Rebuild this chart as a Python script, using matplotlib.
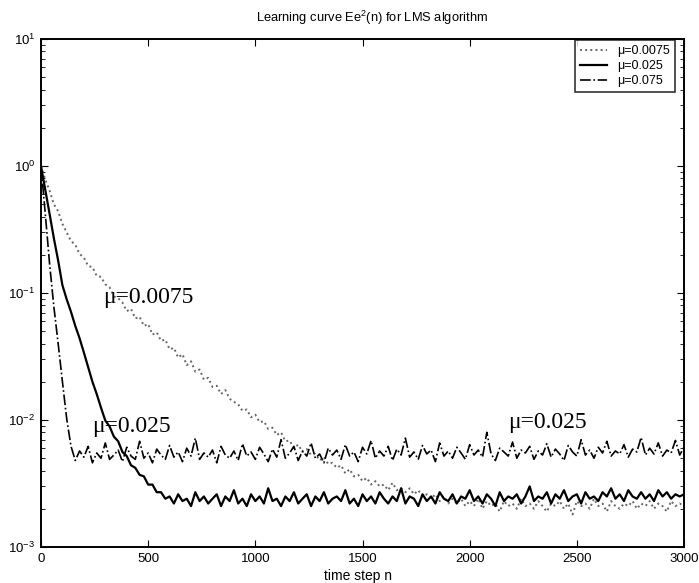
import numpy as np
import matplotlib
matplotlib.use('Agg')
import matplotlib.pyplot as plt

plt.rcParams['font.family'] = ['Liberation Sans', 'DejaVu Sans']
plt.rcParams['mathtext.default'] = 'regular'

# learning curves, one value every 20 time steps
e_slow = [  # mu = 0.0075
    1.0, 0.78, 0.64, 0.50, 0.44, 0.35, 0.30, 0.256, 0.240, 0.203,
    0.190, 0.163, 0.160, 0.136, 0.134, 0.117, 0.111, 0.094, 0.091, 0.084,
    0.072, 0.075, 0.063, 0.065, 0.055, 0.057, 0.047, 0.049, 0.042, 0.043,
    0.036, 0.037, 0.031, 0.033, 0.027, 0.029, 0.024, 0.025, 0.0208, 0.0215,
    0.0182, 0.0186, 0.0160, 0.0172, 0.0147, 0.0139, 0.0133, 0.0118, 0.0121, 0.0105,
    0.0110, 0.0096, 0.0098, 0.0085, 0.0087, 0.0076, 0.0080, 0.0068, 0.0069, 0.0060,
    0.0064, 0.0056, 0.0059, 0.0053, 0.0054, 0.0048, 0.0051, 0.0045, 0.0046, 0.0042,
    0.0044, 0.0038, 0.0041, 0.0036, 0.0037, 0.0033, 0.0035, 0.0031, 0.0033, 0.0030,
    0.0031, 0.0028, 0.0032, 0.0028, 0.0029, 0.0027, 0.0029, 0.0026, 0.0028, 0.0025,
    0.0026, 0.0024, 0.0026, 0.0023, 0.0025, 0.0022, 0.0024, 0.0022, 0.0024, 0.0021,
    0.0023, 0.0021, 0.0024, 0.0020, 0.0023, 0.0021, 0.0022, 0.0019, 0.0023, 0.0021,
    0.0022, 0.0020, 0.0024, 0.0021, 0.0022, 0.0020, 0.0023, 0.0021, 0.0019, 0.0022,
    0.0021, 0.0023, 0.0020, 0.0022, 0.0018, 0.0023, 0.0021, 0.0022, 0.0020, 0.0024,
    0.0021, 0.0022, 0.0019, 0.0023, 0.0021, 0.0020, 0.0022, 0.0021, 0.0023, 0.0020,
    0.0022, 0.0021, 0.0023, 0.0020, 0.0022, 0.0021, 0.0019, 0.0023, 0.0021, 0.0022,
    0.0021,
]

e_mid = [  # mu = 0.025
    1.0, 0.65, 0.42, 0.27, 0.18, 0.115, 0.089, 0.071, 0.055, 0.044,
    0.034, 0.026, 0.020, 0.016, 0.0125, 0.0099, 0.0089, 0.0074, 0.0068, 0.0056,
    0.0052, 0.0044, 0.0042, 0.0037, 0.0036, 0.0031, 0.0031, 0.0027, 0.0027, 0.0024,
    0.0025, 0.0022, 0.0026, 0.0023, 0.0024, 0.0021, 0.0027, 0.0023, 0.0025, 0.0022,
    0.0024, 0.0026, 0.0021, 0.0025, 0.0023, 0.0028, 0.0022, 0.0024, 0.0021, 0.0026,
    0.0023, 0.0025, 0.0022, 0.0029, 0.0023, 0.0024, 0.0021, 0.0025, 0.0023, 0.0027,
    0.0022, 0.0024, 0.0026, 0.0021, 0.0025, 0.0023, 0.0027, 0.0022, 0.0024, 0.0025,
    0.0023, 0.0028, 0.0022, 0.0024, 0.0021, 0.0026, 0.0023, 0.0025, 0.0022, 0.0027,
    0.0024, 0.0022, 0.0025, 0.0023, 0.0029, 0.0022, 0.0025, 0.0024, 0.0021, 0.0026,
    0.0023, 0.0025, 0.0022, 0.0027, 0.0024, 0.0023, 0.0026, 0.0022, 0.0025, 0.0024,
    0.0028, 0.0023, 0.0025, 0.0022, 0.0026, 0.0024, 0.0021, 0.0027, 0.0023, 0.0025,
    0.0024, 0.0026, 0.0022, 0.0025, 0.0030, 0.0023, 0.0025, 0.0024, 0.0027, 0.0022,
    0.0026, 0.0024, 0.0028, 0.0023, 0.0025, 0.0026, 0.0022, 0.0027, 0.0024, 0.0025,
    0.0023, 0.0027, 0.0025, 0.0029, 0.0024, 0.0026, 0.0023, 0.0028, 0.0025, 0.0024,
    0.0027, 0.0024, 0.0026, 0.0023, 0.0028, 0.0025, 0.0027, 0.0024, 0.0026, 0.0025,
    0.0026,
]

e_fast = [  # mu = 0.075
    1.0, 0.42, 0.17, 0.078, 0.040, 0.020, 0.0102, 0.0062, 0.0048, 0.0057,
    0.0051, 0.0062, 0.0046, 0.0055, 0.0050, 0.0066, 0.0049, 0.0053, 0.0058, 0.0047,
    0.0061, 0.0052, 0.0049, 0.0068, 0.0050, 0.0055, 0.0046, 0.0059, 0.0053, 0.0049,
    0.0063, 0.0051, 0.0056, 0.0047, 0.0060, 0.0052, 0.0072, 0.0049, 0.0055, 0.0051,
    0.0058, 0.0046, 0.0062, 0.0053, 0.0050, 0.0057, 0.0048, 0.0065, 0.0052, 0.0056,
    0.0049, 0.0061, 0.0054, 0.0047, 0.0059, 0.0051, 0.0070, 0.0050, 0.0055, 0.0062,
    0.0048, 0.0057, 0.0052, 0.0066, 0.0050, 0.0054, 0.0046, 0.0060, 0.0053, 0.0058,
    0.0049, 0.0064, 0.0052, 0.0056, 0.0047, 0.0061, 0.0054, 0.0069, 0.0050, 0.0057,
    0.0052, 0.0062, 0.0048, 0.0059, 0.0053, 0.0072, 0.0051, 0.0056, 0.0049, 0.0063,
    0.0054, 0.0058, 0.0047, 0.0066, 0.0052, 0.0057, 0.0050, 0.0061, 0.0055, 0.0049,
    0.0064, 0.0053, 0.0058, 0.0051, 0.0080, 0.0054, 0.0048, 0.0060, 0.0056, 0.0052,
    0.0067, 0.0050, 0.0058, 0.0055, 0.0062, 0.0049, 0.0057, 0.0053, 0.0065, 0.0051,
    0.0059, 0.0054, 0.0048, 0.0063, 0.0056, 0.0052, 0.0070, 0.0053, 0.0058, 0.0050,
    0.0061, 0.0055, 0.0068, 0.0052, 0.0057, 0.0054, 0.0064, 0.0051, 0.0059, 0.0056,
    0.0073, 0.0053, 0.0060, 0.0054, 0.0066, 0.0052, 0.0058, 0.0055, 0.0069, 0.0053,
    0.0061,
]

labels = ['\u03bc=0.0075', '\u03bc=0.025', '\u03bc=0.075']
x_ticks = [0, 500, 1000, 1500, 2000, 2500, 3000]

n_slow = np.linspace(0, 3000, len(e_slow))
n_mid = np.linspace(0, 3000, len(e_mid))
n_fast = np.linspace(0, 3000, len(e_fast))

fig = plt.figure(figsize=(6.99, 5.83), dpi=100)
ax = fig.add_axes([41 / 699, 36 / 583, 643 / 699, 508 / 583])

ax.semilogy(n_slow, e_slow, linestyle=':', color='0.4', lw=1.4, label=labels[0])
ax.semilogy(n_mid, e_mid, linestyle='-', color='k', lw=1.6, label=labels[1])
ax.semilogy(n_fast, e_fast, linestyle='-.', color='k', lw=1.2, label=labels[2])

ax.set_xlim(0, 3000)
ax.set_ylim(1e-3, 1e1)
ax.set_xticks(x_ticks)
ax.tick_params(which='both', direction='in', top=True, right=True, labelsize=9.5, pad=4)
ax.tick_params(which='major', length=5)
ax.tick_params(which='minor', length=3)
for s in ax.spines.values():
    s.set_linewidth(1.4)

leg = ax.legend(loc='upper right', bbox_to_anchor=(0.986, 0.998), borderaxespad=0,
                fancybox=False, fontsize=9, labelspacing=0.25, handlelength=2.2)
leg.get_frame().set_edgecolor('k')
leg.get_frame().set_linewidth(1.2)

# hand-written labels on the curves (serif, as in the original)
serif = ['Liberation Serif', 'DejaVu Serif']
ax.text(289, 0.0834, '\u03bc=0.0075', family=serif, fontsize=17, va='baseline')
ax.text(238, 0.00805, '\u03bc=0.025', family=serif, fontsize=17, va='baseline')
ax.text(2179, 0.00865, '\u03bc=0.025', family=serif, fontsize=17, va='baseline')

fig.text(372 / 699, 1 - 18 / 583, 'Learning curve Ee$^2$(n) for LMS algorithm',
         ha='center', va='center', fontsize=9.3)
fig.text(358 / 699, 1 - 576 / 583, 'time step n', ha='center', va='center', fontsize=10)

fig.savefig('out.png', dpi=100)
